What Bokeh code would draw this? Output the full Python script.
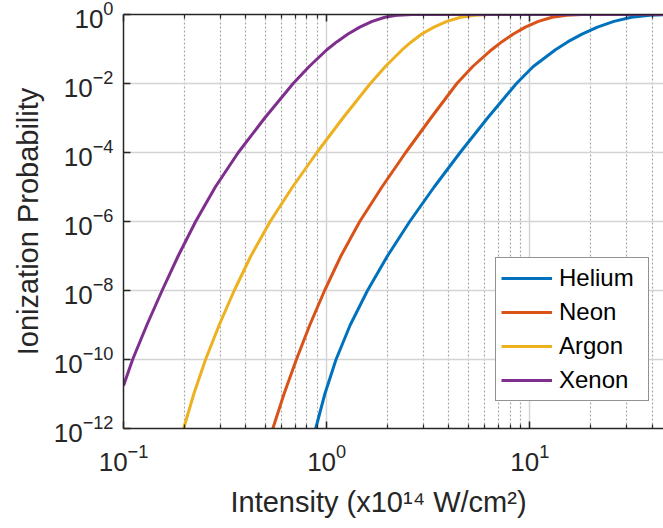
from bokeh.plotting import figure
from bokeh.models import (FixedTicker, LogAxis, Legend, LegendItem, Range1d,
                          CustomJSTickFormatter, Title)
from bokeh.embed import file_html
from bokeh.resources import INLINE

# ---- data ----
series_names = ["Helium", "Neon", "Argon", "Xenon"]
series_colors = ["#0072BD", "#D95319", "#EDB120", "#7E2F8E"]

helium_x = [0.8831, 0.9795, 1.112, 1.306, 1.589, 1.991, 2.564, 3.381, 4.539, 6.194,
            8.590, 10.40, 13.37, 15.42, 18.07, 21.53, 25.94, 31.62, 38.82, 45.5]
helium_y = [1e-12, 1e-11, 1e-10, 1e-9, 1e-8, 1e-7, 1e-6, 1e-5, 1e-4, 1e-3,
            1e-2, 0.0311, 0.0952, 0.163, 0.271, 0.430, 0.632, 0.831, 0.958, 0.9926]

neon_x = [0.5433, 0.6166, 0.7096, 0.8260, 0.9772, 1.175, 1.455, 1.871, 2.449, 3.258,
          4.375, 5.236, 6.486, 7.295, 8.299, 9.506, 11.02, 12.88, 15.17, 18.07, 21.78, 45.5]
neon_y = [1e-12, 1e-11, 1e-10, 1e-9, 1e-8, 1e-7, 1e-6, 1e-5, 1e-4, 1e-3,
          1e-2, 0.0311, 0.0952, 0.163, 0.271, 0.430, 0.632, 0.831, 0.958, 0.9964, 1.0, 1.0]

argon_x = [0.1977, 0.2218, 0.2535, 0.2958, 0.3508, 0.4236, 0.5272, 0.6792, 0.8954, 1.202,
           1.641, 1.945, 2.355, 2.618, 2.938, 3.373, 3.908, 4.571, 5.346, 6.281, 7.413, 45.5]
argon_y = [1e-12, 1e-11, 1e-10, 1e-9, 1e-8, 1e-7, 1e-6, 1e-5, 1e-4, 1e-3,
           1e-2, 0.0311, 0.0952, 0.163, 0.271, 0.430, 0.632, 0.831, 0.958, 0.9964, 1.0, 1.0]

xenon_x = [0.1000, 0.1109, 0.1303, 0.1549, 0.1858, 0.2265, 0.2831, 0.3673, 0.4955,
           0.6839, 0.8204, 1.002, 1.125, 1.274, 1.455, 1.675, 1.936, 2.249, 2.630, 3.090, 45.5]
xenon_y = [1.74e-11, 1e-10, 1e-9, 1e-8, 1e-7, 1e-6, 1e-5, 1e-4, 1e-3,
           1e-2, 0.0311, 0.0952, 0.163, 0.271, 0.430, 0.632, 0.831, 0.958, 0.9964, 1.0, 1.0]

x_major_ticks = [0.1, 1, 10]
x_minor_ticks = [0.2, 0.3, 0.4, 0.5, 0.6, 0.7, 0.8, 0.9,
                 2, 3, 4, 5, 6, 7, 8, 9, 20, 30, 40]
y_major_ticks = [1e-12, 1e-10, 1e-8, 1e-6, 1e-4, 1e-2, 1]

x_label = "Intensity (x10\u00b9\u2074 W/cm\u00b2)"
y_label = "Ionization Probability"

FONT = "Liberation Sans"
INK = "#262626"

p = figure(frame_width=540, frame_height=414,
           x_axis_type="log", y_axis_type="log",
           x_range=Range1d(0.1, 45.5), y_range=Range1d(1e-12, 1),
           output_backend="svg", toolbar_location=None,
           min_border_left=123, min_border_right=0,
           min_border_top=14, min_border_bottom=100,
           y_axis_label=y_label)
p.outline_line_color = None
p.background_fill_color = "white"
p.border_fill_color = "white"

xt = FixedTicker(ticks=x_major_ticks, minor_ticks=x_minor_ticks)
yt = FixedTicker(ticks=y_major_ticks, minor_ticks=[])
p.xaxis[0].ticker = xt
p.yaxis[0].ticker = yt

for ax in (p.xaxis[0], p.yaxis[0]):
    ax.major_tick_in = 7
    ax.major_tick_out = 0
    ax.minor_tick_in = 4
    ax.minor_tick_out = 0
    ax.axis_line_color = INK
    ax.axis_line_width = 1.5
    ax.major_tick_line_color = INK
    ax.major_tick_line_width = 1.5
    ax.minor_tick_line_color = INK
    ax.minor_tick_line_width = 1.2
    ax.major_label_text_font = FONT
    ax.major_label_text_font_size = "26px"
    ax.major_label_text_color = INK
    ax.axis_label_text_font = FONT
    ax.axis_label_text_font_size = "29px"
    ax.axis_label_text_font_style = "normal"
    ax.axis_label_text_color = INK

p.xaxis[0].major_label_standoff = 15
p.yaxis[0].major_label_standoff = 10
p.yaxis[0].axis_label_standoff = 7
p.yaxis[0].minor_tick_in = 0

# x-axis title, placed where the reference has it
xtitle = Title(text=x_label, align="left", offset=107, standoff=21,
               text_font=FONT, text_font_size="29px", text_font_style="normal",
               text_color=INK)
p.add_layout(xtitle, "below")

top = LogAxis(ticker=xt, formatter=CustomJSTickFormatter(code="return ''"))
top.major_tick_in = 7
top.major_tick_out = 0
top.minor_tick_in = 4
top.minor_tick_out = 0
top.axis_line_color = INK
top.axis_line_width = 1.5
top.major_tick_line_color = INK
top.major_tick_line_width = 1.5
top.minor_tick_line_color = INK
top.minor_tick_line_width = 1.2
top.major_label_standoff = 0
p.add_layout(top, "above")

p.xgrid.grid_line_color = "#d4d4d4"
p.xgrid.grid_line_width = 1.5
p.xgrid.minor_grid_line_color = "#a8a8a8"
p.xgrid.minor_grid_line_width = 1.2
p.xgrid.minor_grid_line_dash = "2 2"
p.ygrid.grid_line_color = "#d4d4d4"
p.ygrid.grid_line_width = 1.5

renderers = []
for xs, ys, c in zip([helium_x, neon_x, argon_x, xenon_x],
                     [helium_y, neon_y, argon_y, xenon_y], series_colors):
    r = p.line(xs, ys, line_color=c, line_width=3, line_join="round")
    renderers.append(r)

items = [LegendItem(label=n, renderers=[r]) for n, r in zip(series_names, renderers)]
legend = Legend(items=items, location=(372, 27))
legend.label_text_font = FONT
legend.label_text_font_size = "24px"
legend.label_text_color = "black"
legend.glyph_width = 51
legend.glyph_height = 30
legend.label_height = 30
legend.label_width = 84
legend.label_standoff = 7
legend.spacing = 4
legend.padding = 5
legend.margin = 0
legend.border_line_color = INK
legend.border_line_width = 1.5
legend.background_fill_color = "white"
legend.background_fill_alpha = 1.0
p.add_layout(legend)

open("out.html", "w").write(file_html(p, INLINE))
